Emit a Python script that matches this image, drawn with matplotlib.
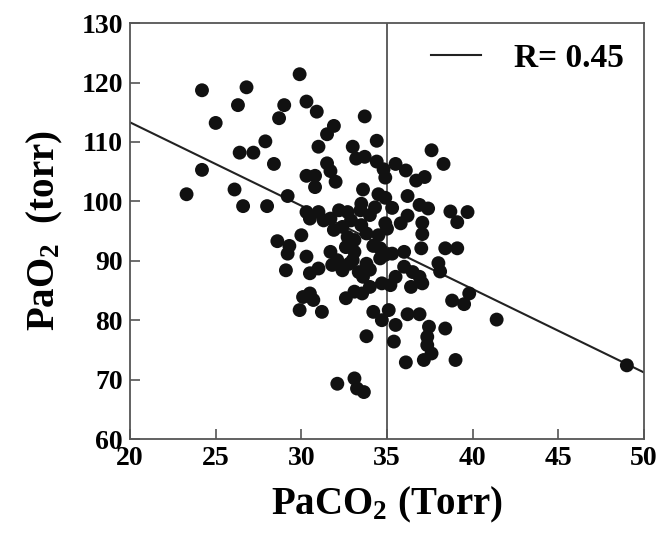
import matplotlib
matplotlib.use('Agg')
import matplotlib.pyplot as plt

# 글꼴: Times 계열 굵은 글씨
plt.rcParams['font.family'] = ['Liberation Serif', 'DejaVu Serif']
plt.rcParams['font.weight'] = 'bold'
plt.rcParams['mathtext.fontset'] = 'custom'
plt.rcParams['mathtext.rm'] = 'Liberation Serif:bold'
plt.rcParams['mathtext.it'] = 'Liberation Serif:bold'
plt.rcParams['mathtext.bf'] = 'Liberation Serif:bold'

# PaCO2 (Torr)
paco2 = [
    23.3, 24.2, 24.2, 25.0, 26.3, 26.8, 26.1, 26.6, 26.4, 27.2,
    27.9, 28.0, 28.4, 28.7, 29.0, 29.9, 30.3, 30.9, 31.0, 29.2,
    31.5, 31.9, 31.5, 31.7, 32.0, 30.3, 30.8, 30.8, 33.7, 34.4,
    33.0, 33.2, 33.7, 34.4, 34.8, 34.9, 35.5, 33.6, 34.5, 33.5,
    34.9, 37.6, 38.3, 36.1, 36.7, 37.2, 36.2, 35.3, 36.9, 37.4,
    38.7, 39.7, 39.1, 36.2, 37.06, 35.8, 35.0, 37.06, 37.0, 38.4,
    39.1, 34.9, 38.0, 38.1, 36.0, 36.5, 36.9, 37.06, 36.4, 35.5,
    35.2, 34.7, 34.9, 35.3, 34.6, 39.8, 38.8, 39.5, 41.4, 35.1,
    36.2, 36.9, 37.45, 38.4, 35.5, 34.7, 37.35, 37.35, 35.4, 36.1,
    37.15, 37.6, 39.0, 49.0, 30.3, 31.0, 30.5, 31.3, 32.2, 32.7,
    32.9, 31.7, 33.45, 34.0, 31.9, 32.4, 32.7, 33.1, 33.8, 34.5,
    28.6, 29.3, 30.0, 29.2, 29.1, 30.3, 30.5, 31.0, 31.7, 31.8,
    32.4, 32.1, 32.6, 33.1, 33.0, 33.35, 33.6, 30.1, 30.5, 30.7,
    29.9, 31.2, 32.6, 33.1, 33.55, 34.0, 34.2, 33.8, 34.6, 32.1,
    33.1, 33.25, 33.65, 32.8, 33.8, 34.2, 34.0, 33.5, 34.3, 36.0,
]

# PaO2 (torr)
pao2 = [
    101.2, 118.7, 105.3, 113.2, 116.2, 119.2, 102.0, 99.2, 108.2, 108.2,
    110.1, 99.2, 106.3, 114.0, 116.2, 121.4, 116.8, 115.1, 109.2, 100.9,
    111.3, 112.7, 106.4, 105.1, 103.3, 104.3, 104.3, 102.4, 114.3, 110.2,
    109.2, 107.2, 107.5, 106.7, 105.4, 104.0, 106.3, 102.0, 101.2, 99.6,
    100.6, 108.6, 106.3, 105.2, 103.5, 104.1, 100.9, 98.9, 99.4, 98.8,
    98.3, 98.2, 96.5, 97.6, 96.4, 96.3, 95.4, 94.5, 92.1, 92.1,
    92.1, 96.3, 89.6, 88.2, 89.0, 88.1, 87.3, 86.2, 85.6, 87.3,
    85.9, 86.2, 91.0, 91.2, 92.1, 84.5, 83.3, 82.7, 80.1, 81.7,
    81.0, 81.0, 78.9, 78.6, 79.2, 80.0, 77.2, 75.8, 76.4, 72.9,
    73.3, 74.4, 73.3, 72.4, 98.2, 98.2, 97.1, 96.8, 98.5, 98.2,
    96.8, 97.1, 98.5, 97.7, 95.2, 95.7, 94.0, 93.5, 94.6, 94.3,
    93.3, 92.5, 94.3, 91.2, 88.4, 90.7, 87.9, 88.7, 91.5, 89.3,
    88.4, 90.1, 92.3, 91.5, 90.1, 88.1, 87.3, 83.9, 84.5, 83.4,
    81.7, 81.4, 83.7, 84.8, 84.5, 85.6, 81.4, 77.3, 90.4, 69.3,
    70.2, 68.5, 67.9, 89.5, 89.5, 92.5, 88.5, 96.0, 99.0, 91.5,
]

# 회귀선 양 끝점
fit_x = [20, 50]
fit_y = [113.3, 71.2]
r_label = 'R= 0.45'

fig = plt.figure(figsize=(6.58, 5.38), dpi=100)
ax = fig.add_axes([0.1976, 0.184, 0.7811, 0.773])

ax.scatter(paco2, pao2, s=100, color='#111111', edgecolors='none', zorder=3)
line, = ax.plot(fit_x, fit_y, color='#222222', linewidth=1.5, zorder=2)
ax.axvline(35, color='#444444', linewidth=1.2, zorder=1)

ax.set_xlim(20, 50)
ax.set_ylim(60, 130)
ax.set_xticks(range(20, 51, 5))
ax.set_yticks(range(60, 131, 10))

for s in ax.spines.values():
    s.set_color('#555555')
    s.set_linewidth(1.3)

ax.tick_params(direction='in', length=7, width=1.2, color='#555555',
               labelsize=20, pad=5)
for lab in ax.get_xticklabels() + ax.get_yticklabels():
    lab.set_fontweight('bold')

ax.set_xlabel('PaCO$_{2}$ (Torr)', fontsize=28, fontweight='bold', labelpad=10)
ax.set_ylabel('PaO$_{2}$  (torr)', fontsize=28, fontweight='bold', labelpad=12)

ax.legend([line], [r_label], loc='upper right', frameon=False,
          prop={'size': 24, 'weight': 'bold'}, handlelength=1.5,
          handletextpad=1.0, borderaxespad=0.2)

fig.savefig('out.png', dpi=100)
